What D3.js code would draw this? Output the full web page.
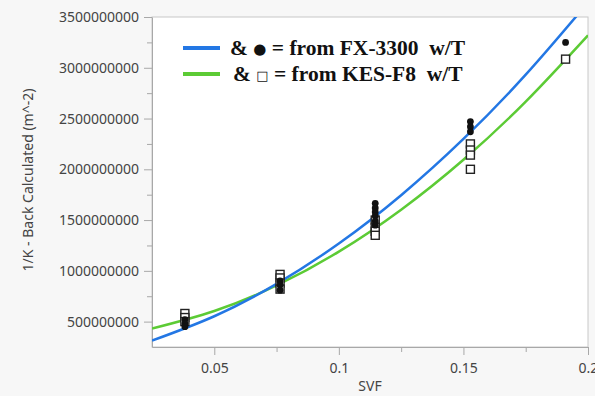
<!DOCTYPE html>
<html>
<head>
<meta charset="utf-8">
<script src="https://cdn.jsdelivr.net/npm/d3@7"></script>
<style>
  body { margin: 0; background: #f7f7f7; }
  svg { display: block; }
</style>
</head>
<body>
<svg id="chart" width="595" height="396"></svg>
<script>
// points measured with the FX-3300 (filled dots)
const fxSvf = [0.0382, 0.0382, 0.0382, 0.0764, 0.0764, 0.0764, 0.1146, 0.1146, 0.1146, 0.1146, 0.1146, 0.1146, 0.1528, 0.1528, 0.1528, 0.191];
const fxValue = [520e6, 480e6, 450e6, 900e6, 860e6, 810e6, 1665e6, 1620e6, 1580e6, 1540e6, 1490e6, 1450e6, 2470e6, 2420e6, 2370e6, 3250e6];

// points measured with the KES-F8 (open squares)
const kesSvf = [0.0382, 0.0382, 0.0382, 0.0764, 0.0764, 0.0764, 0.0764, 0.1146, 0.1146, 0.1146, 0.1146, 0.1528, 0.1528, 0.1528, 0.1528, 0.191];
const kesValue = [580e6, 540e6, 500e6, 965e6, 930e6, 880e6, 820e6, 1500e6, 1430e6, 1390e6, 1350e6, 2250e6, 2190e6, 2140e6, 2000e6, 3085e6];

// fitted curves
const curveSvf = [0.025, 0.05, 0.075, 0.1, 0.125, 0.15, 0.175, 0.2];
const fxCurve = [313e6, 553e6, 872e6, 1269e6, 1745e6, 2299e6, 2932e6, 3643e6];
const kesCurve = [431e6, 604e6, 856e6, 1189e6, 1602e6, 2094e6, 2667e6, 3320e6];

const xTicks = [0.05, 0.1, 0.15, 0.2];
const xMinor = [0.075, 0.125, 0.175];
const yTicks = [500e6, 1000e6, 1500e6, 2000e6, 2500e6, 3000e6, 3500e6];
const yMinor = [750e6, 1250e6, 1750e6, 2250e6, 2750e6, 3250e6];

const legendSymbols = ["\u25CF", "\u25A1"];
const legendLabels = ["= from FX-3300  w/T", "= from KES-F8  w/T"];

const margin = { top: 17, right: 7, bottom: 49, left: 152 };
const width = 595 - margin.left - margin.right;
const height = 396 - margin.top - margin.bottom;

const blue = "#2377e4";
const green = "#5ccb35";

const svg = d3.select("#chart");

const x = d3.scaleLinear().domain([0.025, 0.2]).range([0, width]);
const y = d3.scaleLinear().domain([250e6, 3500e6]).range([height, 0]);

const g = svg.append("g").attr("transform", `translate(${margin.left},${margin.top})`);

// plot background
g.append("rect")
    .attr("width", width)
    .attr("height", height)
    .attr("fill", "#ffffff")
    .attr("stroke", "#c8c8c8")
    .attr("stroke-width", 1);

svg.append("defs").append("clipPath").attr("id", "clip")
    .append("rect").attr("width", width).attr("height", height);

// axes
const xAxis = g.append("g")
    .attr("transform", `translate(0,${height})`)
    .call(d3.axisBottom(x).tickValues(xTicks).tickSize(8).tickSizeOuter(0).tickFormat(d3.format("")));
g.append("g")
    .attr("transform", `translate(0,${height})`)
    .call(d3.axisBottom(x).tickValues(xMinor).tickSize(5).tickFormat(""))
    .select(".domain").remove();

const yAxis = g.append("g")
    .call(d3.axisLeft(y).tickValues(yTicks).tickSize(8).tickSizeOuter(0).tickFormat(d3.format("d")));
g.append("g")
    .call(d3.axisLeft(y).tickValues(yMinor).tickSize(5).tickFormat(""))
    .select(".domain").remove();

g.selectAll(".domain").attr("stroke", "#a8a8a8");
g.selectAll(".tick line").attr("stroke", "#a8a8a8");
g.selectAll(".tick text")
    .attr("fill", "#444")
    .style("font-family", "'Noto Sans', sans-serif")
    .style("font-size", "14px");
xAxis.selectAll(".tick text").attr("dy", "1.05em");
yAxis.selectAll(".tick text").attr("x", -13);

// axis titles
svg.append("text")
    .attr("x", margin.left + width / 2)
    .attr("y", 391)
    .attr("text-anchor", "middle")
    .attr("fill", "#444")
    .style("font-family", "'Noto Sans', sans-serif")
    .style("font-size", "14px")
    .text("SVF");

svg.append("text")
    .attr("transform", "translate(33,180) rotate(-90)")
    .attr("text-anchor", "middle")
    .attr("fill", "#444")
    .style("font-family", "'Noto Sans', sans-serif")
    .style("font-size", "14px")
    .text("1/K - Back Calculated (m^-2)");

// fitted curves
const line = d3.line()
    .x(d => x(d[0]))
    .y(d => y(d[1]))
    .curve(d3.curveNatural);

const plot = g.append("g").attr("clip-path", "url(#clip)");

plot.append("path")
    .datum(d3.zip(curveSvf, kesCurve))
    .attr("fill", "none")
    .attr("stroke", green)
    .attr("stroke-width", 2.5)
    .attr("d", line);

plot.append("path")
    .datum(d3.zip(curveSvf, fxCurve))
    .attr("fill", "none")
    .attr("stroke", blue)
    .attr("stroke-width", 2.5)
    .attr("d", line);

// KES-F8 squares
plot.selectAll(".sq")
    .data(d3.zip(kesSvf, kesValue))
    .join("rect")
    .attr("class", "sq")
    .attr("x", d => x(d[0]) - 4)
    .attr("y", d => y(d[1]) - 4)
    .attr("width", 8)
    .attr("height", 8)
    .attr("fill", "#fff")
    .attr("stroke", "#222")
    .attr("stroke-width", 1.4);

// FX-3300 dots
plot.selectAll(".dot")
    .data(d3.zip(fxSvf, fxValue))
    .join("circle")
    .attr("class", "dot")
    .attr("cx", d => x(d[0]))
    .attr("cy", d => y(d[1]))
    .attr("r", 3.4)
    .attr("fill", "#111");

// legend
const legend = svg.append("g").attr("transform", "translate(183,48)");
legend.selectAll("line")
    .data([blue, green])
    .join("line")
    .attr("x1", 0)
    .attr("x2", 37)
    .attr("y1", (d, i) => i * 26)
    .attr("y2", (d, i) => i * 26)
    .attr("stroke", d => d)
    .attr("stroke-width", 4);

const legendText = legend.selectAll("text")
    .data(legendLabels)
    .join("text")
    .attr("x", (d, i) => 47 + i * 3)
    .attr("y", (d, i) => i * 26 + 7)
    .attr("fill", "#111")
    .attr("xml:space", "preserve")
    .style("white-space", "pre")
    .style("font-family", "'Liberation Serif', 'Times New Roman', serif")
    .style("font-weight", "bold")
    .style("font-size", "21.5px");

legendText.append("tspan").text("& ");
legendText.append("tspan")
    .style("font-family", "'DejaVu Sans', sans-serif")
    .style("font-size", (d, i) => i === 0 ? "15px" : "13px")
    .style("font-weight", "normal")
    .attr("fill", "#111")
    .attr("dy", -1)
    .text((d, i) => legendSymbols[i]);
legendText.append("tspan")
    .attr("dy", 1)
    .text(d => " " + d);
</script>
</body>
</html>
